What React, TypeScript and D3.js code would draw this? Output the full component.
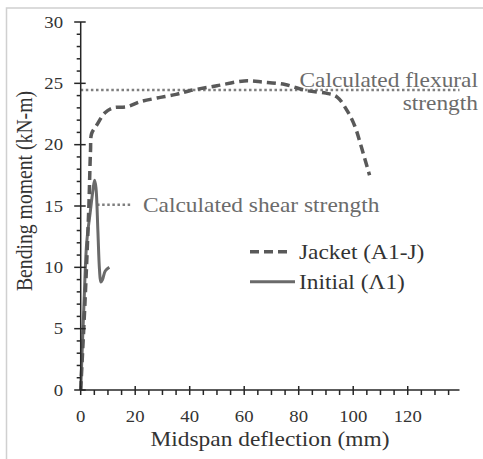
import React from "react";
import * as d3 from "d3";

const xTicks = [0, 20, 40, 60, 80, 100, 120];
const yTicks = [0, 5, 10, 15, 20, 25, 30];

const jacketDeflection = [0, 1.6, 3.0, 3.6, 4.0, 5.9, 8.9, 11.8, 17, 21.8, 28, 35, 40, 50, 60, 67, 75, 83, 90, 94, 97.7, 100.6, 103, 106];
const jacketMoment = [0, 7.3, 15, 19.5, 20.9, 21.6, 22.6, 23.0, 23.1, 23.5, 23.8, 24.1, 24.4, 24.8, 25.2, 25.1, 24.9, 24.4, 24.2, 23.9, 22.8, 21.5, 19.8, 17.5];

const initialDeflection = [0, 1.2, 2.2, 3.5, 4.5, 5.1, 5.6, 6.3, 6.9, 7.4, 8.0, 9.0, 10.5];
const initialMoment = [0, 7, 12, 14.5, 16.3, 17.1, 16.5, 13, 9.8, 8.8, 9.0, 9.7, 10.0];

const flexuralStrength = 24.45;
const shearStrength = 15.1;
const shearRange = [6, 19];

const seriesNames = ["Jacket (A1-J)", "Initial (\u039B1)"];
const xTitle = "Midspan deflection (mm)";
const yTitle = "Bending moment (kN-m)";
const flexLabel = ["Calculated flexural", "strength"];
const shearLabel = "Calculated shear strength";

const SX = 1.17;
const FONT = "'Liberation Serif', 'Times New Roman', serif";

function T({ x, y, children, anchor = "start", size = 20, fill = "#404040", baseline }: any) {
  return (
    <text
      transform={`translate(${x},${y}) scale(${SX},1)`}
      textAnchor={anchor}
      fontSize={size}
      fontFamily={FONT}
      fill={fill}
      dominantBaseline={baseline}
    >
      {children}
    </text>
  );
}

export default function App() {
  const x = d3.scaleLinear().domain([0, 139]).range([80.7, 459.5]);
  const y = d3.scaleLinear().domain([0, 30]).range([390, 22]);

  const line = d3
    .line<[number, number]>()
    .x((d) => x(d[0]))
    .y((d) => y(d[1]))
    .curve(d3.curveCatmullRom.alpha(0.5));

  const jacket: [number, number][] = jacketDeflection.map((d, i) => [d, jacketMoment[i]]);
  const initial: [number, number][] = initialDeflection.map((d, i) => [d, initialMoment[i]]);

  const xMinor = d3.range(0, 136, 5).filter((v) => v % 20 !== 0);
  const yMinor = d3.range(0, 31, 1).filter((v) => v % 5 !== 0);

  const axisColor = "#262626";

  return (
    <svg
      width={483}
      height={459}
      style={{ position: "absolute", left: 0, top: 0, display: "block", background: "#fff" }}
    >
      <rect x={6.5} y={8} width={500} height={480} fill="none" stroke="#d0d0d0" strokeWidth={1.5} />

      {/* reference lines */}
      <line
        x1={x(0)}
        x2={x(139)}
        y1={y(flexuralStrength)}
        y2={y(flexuralStrength)}
        stroke="#7f7f7f"
        strokeWidth={2.5}
        strokeDasharray="2.5,2.6"
      />
      <line
        x1={x(shearRange[0])}
        x2={x(shearRange[1])}
        y1={y(shearStrength)}
        y2={y(shearStrength)}
        stroke="#7f7f7f"
        strokeWidth={2.5}
        strokeDasharray="2.5,2.6"
      />

      {/* series */}
      <path d={line(initial) || ""} fill="none" stroke="#6a6a6a" strokeWidth={3} strokeLinejoin="round" />
      <path
        d={line(jacket) || ""}
        fill="none"
        stroke="#595959"
        strokeWidth={3.5}
        strokeDasharray="9,5"
        strokeLinejoin="round"
      />

      {/* axes */}
      <line x1={x(0)} x2={x(139)} y1={y(0)} y2={y(0)} stroke={axisColor} strokeWidth={1.5} />
      <line x1={x(0)} x2={x(0)} y1={y(0)} y2={y(30)} stroke={axisColor} strokeWidth={1.5} />
      {xTicks.map((t) => (
        <line key={"xt" + t} x1={x(t)} x2={x(t)} y1={y(0) - 4} y2={y(0) + 5} stroke={axisColor} strokeWidth={1.5} />
      ))}
      {xMinor.map((t) => (
        <line key={"xm" + t} x1={x(t)} x2={x(t)} y1={y(0)} y2={y(0) + 5} stroke={axisColor} strokeWidth={1.5} />
      ))}
      {yTicks.map((t) => (
        <line key={"yt" + t} x1={x(0) - 6.5} x2={x(0) + 5} y1={y(t)} y2={y(t)} stroke={axisColor} strokeWidth={1.5} />
      ))}
      {yMinor.map((t) => (
        <line key={"ym" + t} x1={x(0) - 4} x2={x(0)} y1={y(t)} y2={y(t)} stroke={axisColor} strokeWidth={1.5} />
      ))}

      {xTicks.map((t) => (
        <T key={"xl" + t} x={x(t)} y={421.5} anchor="middle" size={16} fill="#333">
          {t}
        </T>
      ))}
      {yTicks.map((t) => (
        <T key={"yl" + t} x={63} y={y(t)} anchor="end" size={16} fill="#333" baseline="central">
          {t}
        </T>
      ))}

      {/* axis titles */}
      <T x={270} y={446} anchor="middle" size={20} fill="#333">
        {xTitle}
      </T>
      <text
        transform={`translate(31.5,191) scale(${SX},1) rotate(-90)`}
        textAnchor="middle"
        fontSize={19.7}
        fontFamily={FONT}
        fill="#333"
      >
        {yTitle}
      </text>

      {/* annotations */}
      <T x={478} y={86.5} anchor="end" size={20} fill="#6b6b6b">
        {flexLabel[0]}
      </T>
      <T x={478} y={110} anchor="end" size={20} fill="#6b6b6b">
        {flexLabel[1]}
      </T>
      <T x={143} y={212} anchor="start" size={20} fill="#6b6b6b">
        {shearLabel}
      </T>

      {/* legend */}
      <line x1={250} x2={290} y1={251.7} y2={251.7} stroke="#595959" strokeWidth={3.5} strokeDasharray="9,5" />
      <T x={299} y={258.5} size={20} fill="#333">
        {seriesNames[0]}
      </T>
      <line x1={250} x2={295} y1={281.7} y2={281.7} stroke="#6a6a6a" strokeWidth={3} />
      <T x={299} y={288.5} size={20} fill="#333">
        {seriesNames[1]}
      </T>
    </svg>
  );
}
